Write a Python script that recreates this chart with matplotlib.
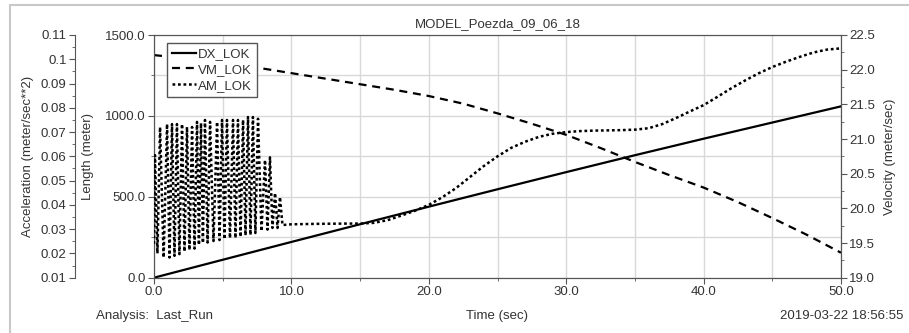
import matplotlib
matplotlib.use('Agg')
import matplotlib.pyplot as plt
from matplotlib.patches import Rectangle
from matplotlib.ticker import MultipleLocator, FuncFormatter

plt.rcParams['font.family'] = ['Liberation Sans', 'DejaVu Sans']

# --- data ---
# DX_LOK: length (meter)
dx_t = [0, 5, 10, 15, 20, 25, 30, 35, 40, 45, 50]
dx_val = [0, 110.8, 221, 330.4, 439, 546.5, 652.5, 757, 859, 959, 1059]

# VM_LOK: velocity (meter/sec)
vm_t = [0, 2.5, 5, 7.5, 10, 12.5, 15, 17.5, 20, 22.5, 25, 27.5, 30,
        32.5, 35, 37.5, 40, 42.5, 45, 47.5, 50]
vm_val = [22.21, 22.16, 22.10, 22.03, 21.95, 21.87, 21.79, 21.71, 21.62,
          21.51, 21.37, 21.22, 21.06, 20.87, 20.67, 20.48, 20.30, 20.09,
          19.86, 19.62, 19.36]

# AM_LOK: acceleration (meter/sec**2)
# oscillating start: peaks and troughs read column by column
am_osc_t = [0.0, 0.07, 0.25, 0.44, 0.70, 0.95, 1.13, 1.31, 1.49, 1.67,
            1.85, 2.04, 2.22, 2.40, 2.58, 2.77, 2.95, 3.13, 3.27, 3.42,
            3.56, 3.71, 3.90, 4.08, 4.33, 4.59, 4.77, 4.95, 5.13, 5.31,
            5.53, 5.75, 5.93, 6.11, 6.30, 6.48, 6.66, 6.84, 7.02, 7.20,
            7.38, 7.57, 7.82, 8.08, 8.26, 8.44, 8.62, 8.81, 8.99, 9.17,
            9.35]
am_osc_val = [0.0240, 0.0605, 0.0200, 0.0720, 0.0183, 0.0733, 0.0183,
              0.0733, 0.0190, 0.0733, 0.0197, 0.0733, 0.0208, 0.0721,
              0.0214, 0.0721, 0.0220, 0.0742, 0.0235, 0.0737, 0.0243,
              0.0750, 0.0245, 0.0742, 0.0251, 0.0742, 0.0255, 0.0750,
              0.0259, 0.0750, 0.0263, 0.0750, 0.0263, 0.0750, 0.0268,
              0.0750, 0.0274, 0.0762, 0.0276, 0.0762, 0.0284, 0.0755,
              0.0292, 0.0585, 0.0298, 0.0596, 0.0305, 0.0449, 0.0305,
              0.0432, 0.0317]
# smooth remainder
am_smooth_t = [10, 12, 14, 15, 16, 17, 18, 19, 20, 21, 22, 23, 24, 25, 26,
               27, 28, 29, 30, 31, 32, 33, 34, 35, 36, 37, 38, 39, 40, 41,
               42, 43, 44, 45, 46, 47, 48, 49, 50]
am_smooth_val = [0.0320, 0.0322, 0.0323, 0.0323, 0.0326, 0.0337, 0.0356,
                 0.0376, 0.0400, 0.0432, 0.0470, 0.0515, 0.0560, 0.0600,
                 0.0635, 0.0660, 0.0680, 0.0693, 0.0700, 0.0704, 0.0706,
                 0.0707, 0.0708, 0.0710, 0.0716, 0.0733, 0.0758, 0.0785,
                 0.0811, 0.0845, 0.0880, 0.0912, 0.0942, 0.0968, 0.0990,
                 0.1010, 0.1028, 0.1040, 0.1045]
am_t = am_osc_t + am_smooth_t
am_val = am_osc_val + am_smooth_val

text_col = '#333333'
spine_col = '#555555'
fs = 9.5

fig = plt.figure(figsize=(9.09, 3.33), dpi=100)
ax = fig.add_axes([154 / 909, (333 - 277.7) / 333, 687 / 909, 242.7 / 333])

# light grey frame of the window (top and left edges)
fig.add_artist(Rectangle((10 / 909, -0.2), 1.2, 0.2 + (333 - 5) / 333,
                         transform=fig.transFigure, fill=False,
                         edgecolor='#c8c8c8', linewidth=1.5))

# length axis
ln_dx, = ax.plot(dx_t, dx_val, color='black', linewidth=1.6, label='DX_LOK')
ax.set_xlim(0, 50)
ax.set_ylim(0, 1500)
ax.xaxis.set_major_locator(MultipleLocator(10))
ax.xaxis.set_minor_locator(MultipleLocator(5))
ax.yaxis.set_major_locator(MultipleLocator(500))
ax.yaxis.set_minor_locator(MultipleLocator(250))
ax.xaxis.set_major_formatter(FuncFormatter(lambda v, p: f'{v:.1f}'))
ax.yaxis.set_major_formatter(FuncFormatter(lambda v, p: f'{v:.1f}'))
ax.grid(True, which='both', color='#d8d8d8', linewidth=1.0)
ax.set_axisbelow(True)
ax.set_ylabel('Length (meter)', fontsize=fs, color=text_col)
ax.yaxis.set_label_coords(-0.0873, 0.5)
ax.set_xlabel('Time (sec)', fontsize=fs, color=text_col, labelpad=8.5)
ax.set_title('MODEL_Poezda_09_06_18', fontsize=fs, color=text_col, pad=6)

# velocity axis (right)
ax_v = ax.twinx()
ln_vm, = ax_v.plot(vm_t, vm_val, color='black', linewidth=1.6,
                   dashes=(3.6, 2.6), label='VM_LOK')
ax_v.set_ylim(19.0, 22.5)
ax_v.yaxis.set_major_locator(MultipleLocator(0.5))
ax_v.yaxis.set_minor_locator(MultipleLocator(0.25))
ax_v.yaxis.set_major_formatter(FuncFormatter(lambda v, p: f'{v:.1f}'))
ax_v.set_ylabel('Velocity (meter/sec)', fontsize=fs, color=text_col)
ax_v.yaxis.set_label_coords(1.062, 0.5)

# acceleration axis (offset left)
ax_a = ax.twinx()
ax_a.spines['left'].set_position(('axes', -0.115))
ax_a.spines['left'].set_visible(True)
ax_a.yaxis.set_label_position('left')
ax_a.yaxis.set_ticks_position('left')
for s in ['right', 'top', 'bottom']:
    ax_a.spines[s].set_visible(False)
ln_am, = ax_a.plot(am_t, am_val, color='black', linewidth=1.8,
                   dashes=(1.1, 1.1), label='AM_LOK')
ax_a.set_ylim(0.01, 0.11)
ax_a.yaxis.set_major_locator(MultipleLocator(0.01))
ax_a.yaxis.set_minor_locator(MultipleLocator(0.005))
ax_a.yaxis.set_major_formatter(FuncFormatter(lambda v, p: f'{round(v, 3):g}'))
ax_a.set_ylabel('Acceleration (meter/sec**2)', fontsize=fs, color=text_col)
ax_a.yaxis.set_label_coords(-0.1747, 0.5)

for a in (ax, ax_v, ax_a):
    for s in a.spines.values():
        s.set_color(spine_col)
    a.tick_params(which='major', length=4, color=spine_col, labelsize=fs,
                  labelcolor=text_col, pad=2)
    a.tick_params(which='minor', length=2.5, color=spine_col)

leg = ax_a.legend(handles=[ln_dx, ln_vm, ln_am], loc='upper left',
                  bbox_to_anchor=(0.0185, 0.967), borderaxespad=0,
                  fontsize=fs, frameon=True, fancybox=False,
                  handlelength=1.8, handletextpad=0.15, labelspacing=0.25,
                  borderpad=0.4)
leg.get_frame().set_edgecolor(spine_col)
leg.get_frame().set_linewidth(1.0)
leg.get_frame().set_alpha(1)
for t in leg.get_texts():
    t.set_color(text_col)

fig.text(155 / 909, (333 - 316) / 333, 'Analysis:  Last_Run', fontsize=fs,
         color=text_col, ha='center', va='center')
fig.text(903 / 909, (333 - 316) / 333, '2019-03-22 18:56:55', fontsize=fs,
         color=text_col, ha='right', va='center')

fig.savefig('out.png', dpi=100)
